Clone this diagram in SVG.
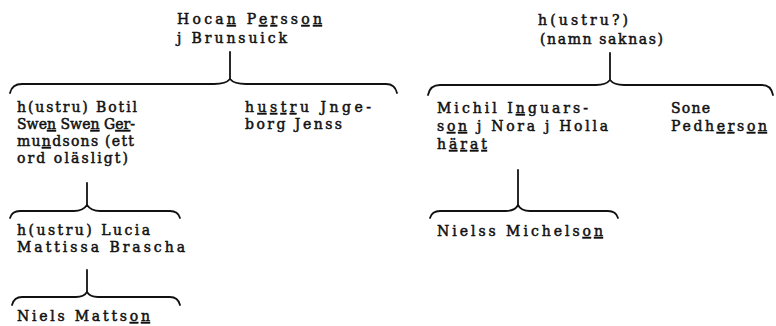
<svg xmlns="http://www.w3.org/2000/svg" width="776" height="326" viewBox="0 0 776 326">
<style>
text{font-family:"DejaVu Serif","Liberation Serif",serif;font-size:14px;fill:#111;stroke:#111;stroke-width:0.5}
.u{text-decoration:underline}
.c{fill:none;stroke:#111;stroke-width:1.8;stroke-linecap:round;stroke-linejoin:round}
</style>
<rect width="776" height="326" fill="#fff"/>
<g id="connectors">
<path class="c" d="M230,52 L230,79"/>
<path class="c" d="M10,93 Q12,84 22,84 L214,84 Q226,84 230,79 Q234,84 246,84 L386,84 Q395,84 397,93"/>
<path class="c" d="M610,53 L610,80"/>
<path class="c" d="M428,95 Q430,85 440,85 L596,85 Q606,85 610,80 Q614,85 624,85 L762,85 Q771,85 773,95"/>
<path class="c" d="M87,183 L87,205"/>
<path class="c" d="M10,218 Q12,211 20,211 L74,211 Q83,211 87,205 Q91,211 100,211 L170,211 Q178,211 180,218"/>
<path class="c" d="M87,270 L87,292"/>
<path class="c" d="M12,305 Q14,297 22,297 L76,297 Q84,297 87,292 Q90,297 98,297 L170,297 Q178,297 180,305"/>
<path class="c" d="M518,170 L518,205"/>
<path class="c" d="M430,218 Q432,211 440,211 L506,211 Q515,211 518,205 Q521,211 530,211 L608,211 Q616,211 618,218"/>
</g>
<g id="hocan">
<text x="177" y="24" textLength="145" lengthAdjust="spacing">Hoca<tspan class="u">n</tspan> P<tspan class="u">er</tspan>ss<tspan class="u">on</tspan></text>
<text x="177" y="43" textLength="110" lengthAdjust="spacing">j Brunsuick</text>
</g>
<g id="botil">
<text x="17" y="112" textLength="120" lengthAdjust="spacing">h(ustru) Botil</text>
<text x="17" y="129" textLength="118" lengthAdjust="spacing">Swe<tspan class="u">n</tspan> Swe<tspan class="u">n</tspan> G<tspan class="u">er</tspan>-</text>
<text x="17" y="146" textLength="117" lengthAdjust="spacing">mu<tspan class="u">n</tspan>dsons (ett</text>
<text x="17" y="163" textLength="111" lengthAdjust="spacing">ord oläsligt)</text>
</g>
<g id="ingeborg">
<text x="245" y="112" textLength="126" lengthAdjust="spacing">h<tspan class="u">ustr</tspan>u Jnge-</text>
<text x="245" y="129" textLength="97" lengthAdjust="spacing">borg Jenss</text>
</g>
<g id="lucia">
<text x="17" y="235" textLength="133" lengthAdjust="spacing">h(ustru) Lucia</text>
<text x="17" y="252" textLength="168" lengthAdjust="spacing">Mattissa Brascha</text>
</g>
<g id="niels">
<text x="17" y="321" textLength="133" lengthAdjust="spacing">Niels Matts<tspan class="u">on</tspan></text>
</g>
<g id="hustru2">
<text x="538" y="25" textLength="90" lengthAdjust="spacing">h(ustru?)</text>
<text x="540" y="44" textLength="123" lengthAdjust="spacing">(namn saknas)</text>
</g>
<g id="michil">
<text x="437" y="113" textLength="151" lengthAdjust="spacing">Michil I<tspan class="u">n</tspan>guars-</text>
<text x="437" y="131" textLength="171" lengthAdjust="spacing">s<tspan class="u">on</tspan> j Nora j Holla</text>
<text x="437" y="149" textLength="50" lengthAdjust="spacing">h<tspan class="u">ärat</tspan></text>
</g>
<g id="sone">
<text x="671" y="113" textLength="39" lengthAdjust="spacing">Sone</text>
<text x="671" y="131" textLength="96" lengthAdjust="spacing">Pedh<tspan class="u">er</tspan>s<tspan class="u">on</tspan></text>
</g>
<g id="nielss">
<text x="437" y="236" textLength="166" lengthAdjust="spacing">Nielss Michels<tspan class="u">on</tspan></text>
</g>
</svg>
